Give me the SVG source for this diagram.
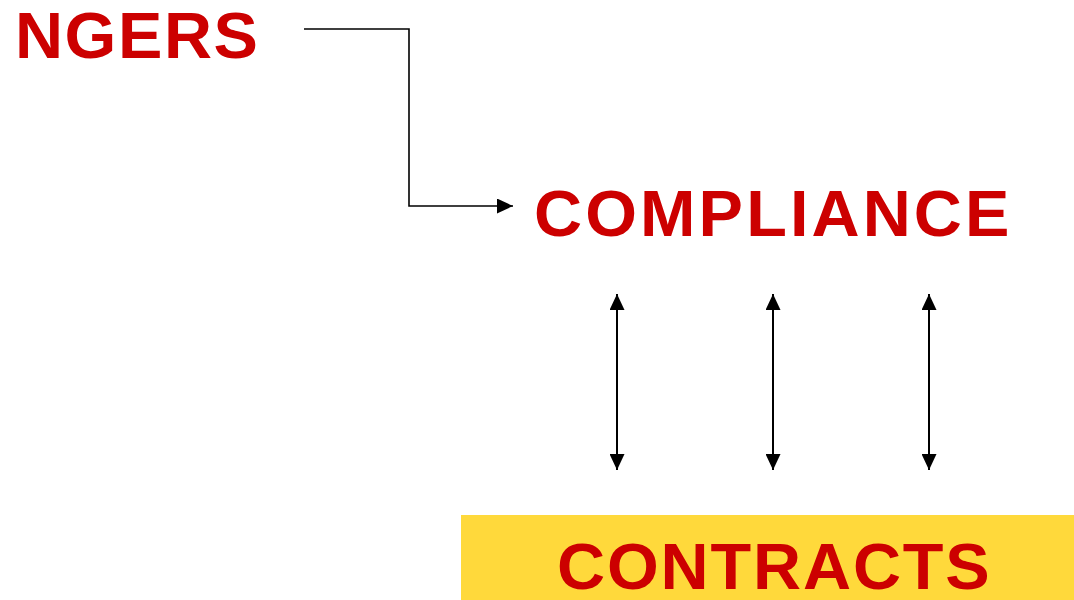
<svg xmlns="http://www.w3.org/2000/svg" width="1074" height="600" viewBox="0 0 1074 600">
<style>
.lbl{font-family:"Liberation Sans",Arial,sans-serif;font-weight:bold;fill:#CC0000;font-size:64px}
.conn{stroke:#000;fill:none}
</style>
<defs>
<marker id="ah" markerUnits="userSpaceOnUse" viewBox="0 0 16 15" markerWidth="16" markerHeight="15" refX="16" refY="7.5" orient="auto-start-reverse">
<path d="M0,0 L16,7.5 L0,15 Z" fill="#000"/>
</marker>
</defs>
<rect width="1074" height="600" fill="#fff"/>
<g id="ngers"><text class="lbl" transform="translate(15,58) scale(1.04,1)" x="0" y="0" letter-spacing="1.5">NGERS</text></g>
<g id="compliance"><text class="lbl" transform="translate(534,236) scale(1.04,1)" x="0" y="0" letter-spacing="3">COMPLIANCE</text></g>
<g id="contracts">
<rect x="461" y="515" width="613" height="85" fill="#FFD93B"/>
<text class="lbl" transform="translate(557,589) scale(1.04,1)" x="0" y="0" letter-spacing="1.8">CONTRACTS</text>
</g>
<g id="connectors">
<path class="conn" stroke-width="1.6" d="M304,29 H409 V206 H513" marker-end="url(#ah)"/>
<path class="conn" stroke-width="2" d="M617,294 V470" marker-start="url(#ah)" marker-end="url(#ah)"/>
<path class="conn" stroke-width="2" d="M773,294 V470" marker-start="url(#ah)" marker-end="url(#ah)"/>
<path class="conn" stroke-width="2" d="M929,294 V470" marker-start="url(#ah)" marker-end="url(#ah)"/>
</g>
</svg>
